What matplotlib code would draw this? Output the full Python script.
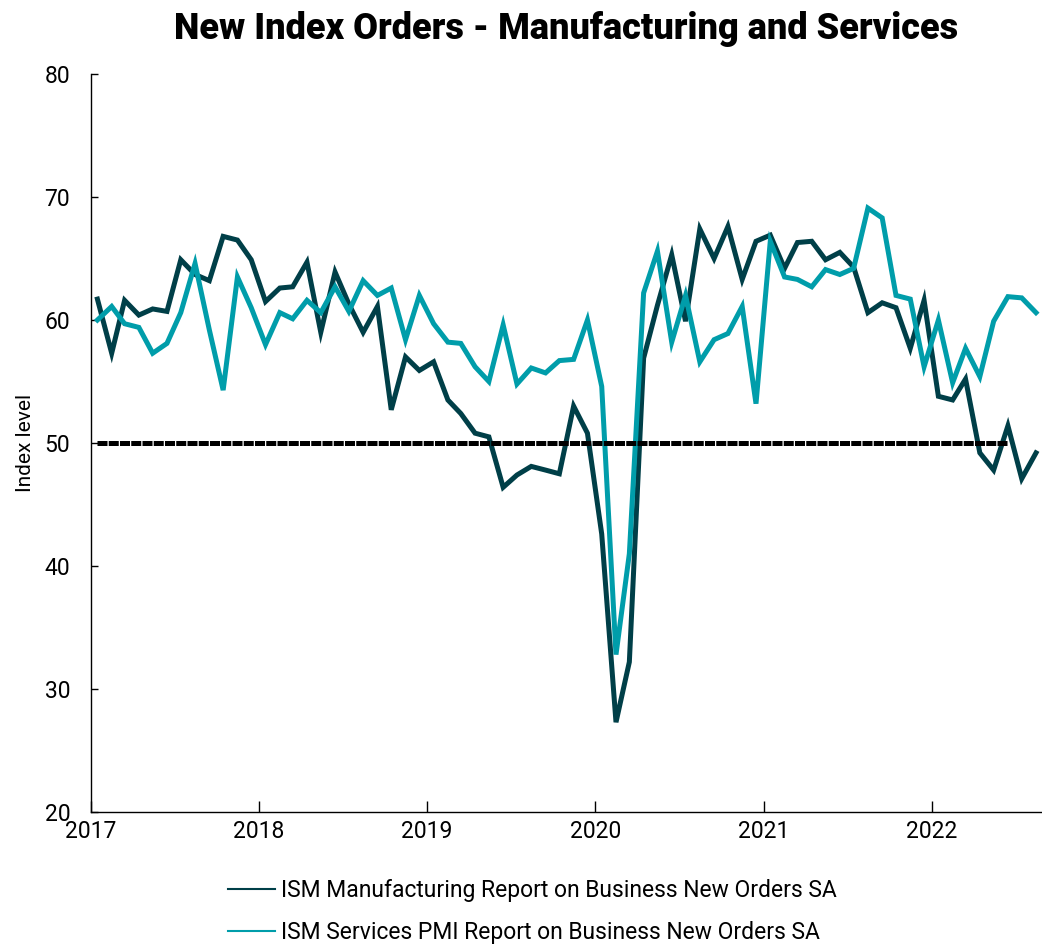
import matplotlib
matplotlib.use("Agg")
import matplotlib.pyplot as plt
import matplotlib.dates as mdates
from matplotlib.lines import Line2D
import pandas as pd

# monthly readings, Jan 2017 .. Aug 2022
start = "2017-01"
n_months = 68

manufacturing = [
    61.7, 57.3, 61.6, 60.4, 60.9, 60.7, 64.9, 63.7, 63.2, 66.8, 66.5, 64.9,
    61.5, 62.6, 62.7, 64.7, 59.0, 63.9, 61.3, 59.0, 61.1, 52.7, 57.0, 55.9,
    56.6, 53.5, 52.4, 50.8, 50.5, 46.4, 47.4, 48.1, 47.8, 47.5, 53.0, 50.8,
    42.6, 27.3, 32.2, 56.9, 61.2, 65.3, 59.9, 67.4, 65.0, 67.6, 63.3, 66.4,
    66.9, 64.2, 66.3, 66.4, 64.9, 65.5, 64.3, 60.6, 61.4, 61.0, 57.7, 61.6,
    53.8, 53.5, 55.2, 49.2, 47.8, 51.4, 47.1, 49.2,
]
services = [
    60.0, 61.1, 59.7, 59.4, 57.3, 58.1, 60.6, 64.6, 59.2, 54.3, 63.5, 61.0,
    58.0, 60.6, 60.1, 61.6, 60.6, 62.7, 60.7, 63.2, 62.0, 62.6, 58.4, 62.0,
    59.7, 58.2, 58.1, 56.2, 55.0, 59.6, 54.8, 56.1, 55.7, 56.7, 56.8, 60.0,
    54.6, 32.8, 41.0, 62.2, 65.6, 58.2, 62.0, 56.6, 58.4, 58.9, 61.1, 53.2,
    66.4, 63.5, 63.3, 62.7, 64.1, 63.7, 64.2, 69.1, 68.3, 62.0, 61.7, 56.2,
    60.0, 54.9, 57.7, 55.4, 59.9, 61.9, 61.8, 60.6,
]
threshold = 50
threshold_months = 66

labels = ["ISM Manufacturing Report on Business New Orders SA",
          "ISM Services PMI Report on Business New Orders SA"]
colors = ["#003f48", "#009daa"]

plt.rcParams["font.family"] = ["Roboto", "DejaVu Sans"]

dates = pd.date_range(start, periods=n_months, freq="MS") + pd.Timedelta(days=14)

fig = plt.figure(figsize=(10.42, 9.44), dpi=100)
ax = fig.add_axes([0.0873, 0.1398, 0.9127, 0.7818])

ax.plot(dates, manufacturing, color=colors[0], lw=3.6, solid_joinstyle="miter")
ax.plot(dates, services, color=colors[1], lw=3.6, solid_joinstyle="miter")
ax.plot(dates[:threshold_months], [threshold] * threshold_months, color="black",
        lw=3.6, linestyle=(0, (2.0, 0.25)))

ax.set_ylim(20, 80)
ax.set_yticks(range(20, 81, 10))
ax.set_xlim(pd.Timestamp("2017-01-01"), pd.Timestamp("2022-08-28"))
ax.xaxis.set_major_locator(mdates.YearLocator())
ax.xaxis.set_major_formatter(mdates.DateFormatter("%Y"))

for side in ("top", "right"):
    ax.spines[side].set_visible(False)
for side in ("left", "bottom"):
    ax.spines[side].set_linewidth(1.0)
ax.tick_params(axis="y", direction="in", length=5, width=1, pad=15, labelsize=16.5)
ax.tick_params(axis="x", direction="in", length=8, width=1, pad=6, labelsize=16.5)

ax.set_ylabel("Index level", fontsize=15, labelpad=7)
ax.set_title("New Index Orders - Manufacturing and Services",
             fontsize=26, fontweight="black", pad=25)

handles = [Line2D([], [], color=c, lw=1.5) for c in colors]
fig.legend(handles, labels, loc="upper left", bbox_to_anchor=(228 / 1042, 1 - 879 / 944),
           frameon=False, fontsize=16.5, handlelength=2.05, handletextpad=0.25,
           labelspacing=0.83, borderpad=0, borderaxespad=0)

fig.savefig("out.png", dpi=100)
